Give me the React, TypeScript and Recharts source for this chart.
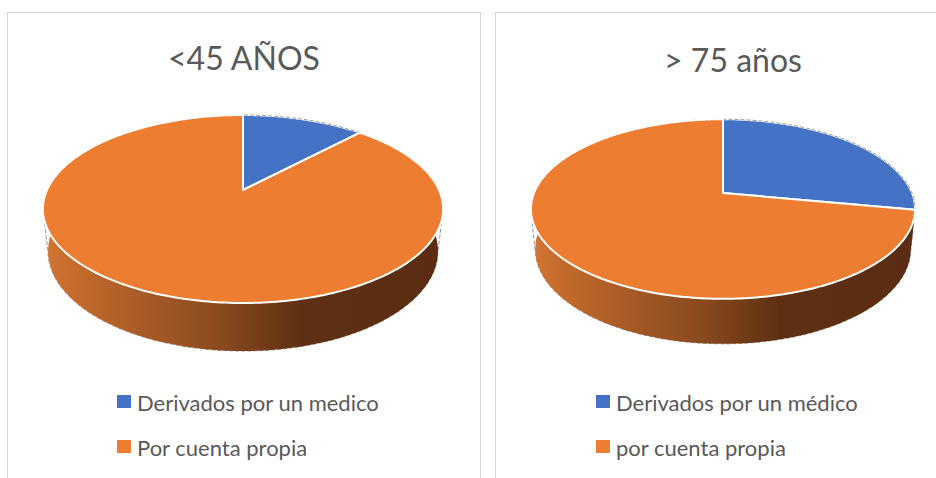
import React from 'react';
import { PieChart, Pie, Cell, Legend } from 'recharts';

// data
const youngNames = ['Derivados por un medico', 'Por cuenta propia'];
const youngValues = [12, 88];
const oldNames = ['Derivados por un médico', 'por cuenta propia'];
const oldValues = [28, 72];
const titles = ['<45 AÑOS', '> 75 años'];

const sliceColors = ['#4472C4', '#ED7D31'];
const wallStops = [
  [
    ['0', '#4a78c8'],
    ['0.1', '#3f68b2'],
    ['0.45', '#2f4f88'],
    ['0.65', '#22396a'],
    ['1', '#203563'],
  ],
  [
    ['0', '#d27533'],
    ['0.08', '#c26a2c'],
    ['0.44', '#8a4a1f'],
    ['0.65', '#5e3013'],
    ['1', '#5a2d12'],
  ],
];
const textColor = '#595959';
const noMargin = { top: 0, right: 0, bottom: 0, left: 0 };

const SIN_TILT = 0.46;
const COS_TILT = Math.sqrt(1 - SIN_TILT * SIN_TILT);

// perspective projection of a point on the pie rim (recharts angle, degrees)
const project = (cx: number, cy: number, s: number, rho: number, aDeg: number, y: number) => {
  const a = (aDeg * Math.PI) / 180;
  const x = rho * Math.cos(a);
  const z = -rho * Math.sin(a);
  const depth = 1 - y * SIN_TILT - z * COS_TILT;
  const up = y * COS_TILT - z * SIN_TILT;
  return [cx + (s * x) / depth, cy - (s * up) / depth];
};

const arc = (cx: number, cy: number, s: number, rho: number, from: number, to: number, y: number) => {
  const n = Math.max(2, Math.ceil(Math.abs(to - from)));
  const pts: string[] = [];
  for (let i = 0; i <= n; i++) {
    const [px, py] = project(cx, cy, s, rho, from + ((to - from) * i) / n, y);
    pts.push(`${px.toFixed(2)} ${py.toFixed(2)}`);
  }
  return pts;
};

const make3D = (id: string, rho: number, eta: number, count: number) => (props: any) => {
  const { cx, cy, outerRadius, startAngle, endAngle, index } = props;
  const s = outerRadius / rho;
  const lo = Math.min(startAngle, endAngle);
  const hi = Math.max(startAngle, endAngle);
  const wHi = Math.min(hi, 10);
  const wLo = Math.max(lo, -190);

  let wall = null;
  if (wHi > wLo) {
    const top = arc(cx, cy, s, rho, wHi, wLo, 0);
    const bottom = arc(cx, cy, s, rho, wLo, wHi, -eta);
    wall = <path d={`M ${top.join(' L ')} L ${bottom.join(' L ')} Z`} fill={`url(#${id}-wall-${index})`} />;
  }

  const face = arc(cx, cy, s, rho, startAngle, endAngle, 0);
  let outline = null;
  if (index === count - 1) {
    const t = arc(cx, cy, s, rho, -12, 192, 0);
    const b = arc(cx, cy, s, rho, 192, 348, -eta);
    outline = (
      <path
        d={`M ${t.join(' L ')} L ${b.join(' L ')} Z`}
        fill="none"
        stroke="#8a8a8a"
        strokeWidth={0.9}
        strokeDasharray="4 2"
      />
    );
  }

  return (
    <g key={`${id}-${index}`}>
      <defs>
        <linearGradient
          id={`${id}-wall-${index}`}
          gradientUnits="userSpaceOnUse"
          x1={cx - outerRadius}
          x2={cx + outerRadius}
          y1={0}
          y2={0}
        >
          {wallStops[index].map(([o, c]) => (
            <stop key={o} offset={o} stopColor={c} />
          ))}
        </linearGradient>
      </defs>
      {outline}
      {wall}
      <path
        d={`M ${cx} ${cy} L ${face.join(' L ')} Z`}
        fill={sliceColors[index]}
        stroke="#ffffff"
        strokeWidth={2}
        strokeLinejoin="round"
      />
    </g>
  );
};

const legendContent = (names: string[]) => () => (
  <div style={{ fontFamily: 'Lato', fontSize: 22, color: textColor }}>
    {names.map((n, i) => (
      <div key={n} style={{ display: 'flex', alignItems: 'center', height: 45, whiteSpace: 'nowrap' }}>
        <span style={{ display: 'inline-block', width: 14, height: 13, background: sliceColors[i], marginRight: 6, marginTop: -3 }} />
        <span>{n}</span>
      </div>
    ))}
  </div>
);

const panel = (left: number, width: number): React.CSSProperties => ({
  position: 'absolute',
  left,
  top: 12,
  width,
  height: 490,
  border: '1px solid #d6d6d6',
  boxSizing: 'border-box',
});

const titleStyle = (center: number, top: number): React.CSSProperties => ({
  position: 'absolute',
  left: center - 150,
  width: 300,
  top,
  textAlign: 'center',
  fontFamily: 'Lato',
  fontSize: 32,
  lineHeight: '32px',
  color: textColor,
});

export default function App() {
  const youngData = youngNames.map((name, i) => ({ name, value: youngValues[i] }));
  const oldData = oldNames.map((name, i) => ({ name, value: oldValues[i] }));

  return (
    <div style={{ position: 'absolute', left: 0, top: 0, width: 936, height: 478, overflow: 'hidden', background: '#fff' }}>
      <div style={panel(7, 474)} />
      <div style={panel(495, 460)} />

      <div style={titleStyle(244, 42)}>{titles[0]}</div>
      <div style={titleStyle(733, 44)}>{titles[1]}</div>

      <div style={{ position: 'absolute', left: 0, top: 0 }}>
        <PieChart width={488} height={478} margin={noMargin}>
          <Pie
            data={youngData}
            dataKey="value"
            nameKey="name"
            cx={243}
            cy={190}
            outerRadius={196}
            startAngle={90}
            endAngle={-270}
            stroke="none"
            labelLine={false}
            label={make3D('young', 0.2275, 0.0555, youngData.length)}
            isAnimationActive={false}
          >
            {youngData.map((d) => (
              <Cell key={d.name} fill="transparent" />
            ))}
          </Pie>
          <Legend content={legendContent(youngNames)} wrapperStyle={{ left: 117, top: 380, width: 320 }} />
        </PieChart>
      </div>

      <div style={{ position: 'absolute', left: 488, top: 0 }}>
        <PieChart width={448} height={478} margin={noMargin}>
          <Pie
            data={oldData}
            dataKey="value"
            nameKey="name"
            cx={235}
            cy={193}
            outerRadius={189}
            startAngle={90}
            endAngle={-270}
            stroke="none"
            labelLine={false}
            label={make3D('old', 0.2007, 0.0483, oldData.length)}
            isAnimationActive={false}
          >
            {oldData.map((d) => (
              <Cell key={d.name} fill="transparent" />
            ))}
          </Pie>
          <Legend content={legendContent(oldNames)} wrapperStyle={{ left: 108, top: 380, width: 320 }} />
        </PieChart>
      </div>
    </div>
  );
}
